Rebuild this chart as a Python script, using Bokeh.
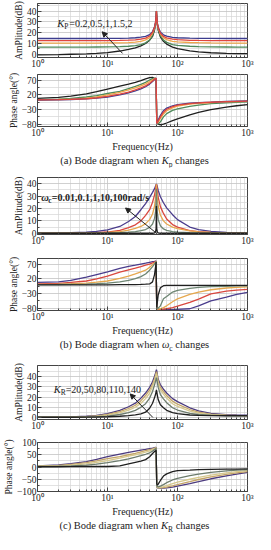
from bokeh.plotting import figure
from bokeh.models import (Range1d, FixedTicker, CustomJSTickFormatter, Label, Arrow,
                          NormalHead, Div)
from bokeh.layouts import column
from bokeh.embed import file_html
from bokeh.resources import INLINE

# ---------------- data ----------------
freq_hz = [1, 2, 3, 5, 7, 10, 15, 20, 25, 30, 35, 40, 44, 47, 48.5, 49.5, 50,
           50.5, 51.5, 53, 57, 63, 70, 85, 100, 150, 200, 300, 500, 700, 1000]

# (a) Kp changes
kp_values = ["0.2", "0.5", "1", "1.5", "2"]
amp_a_kp02 = [-0.5, -0.3, 0.0, 0.4, 0.9, 1.6, 3.0, 4.5, 6.0, 7.8, 10.0, 13.0, 16.5, 22.5, 27.5, 34.0, 40.0,
              34.0, 27.4, 22.3, 16.0, 12.0, 9.4, 6.6, 5.2, 3.2, 2.3, 1.4, 0.8, 0.6, 0.5]
amp_a_kp05 = [6.6, 6.6, 6.6, 6.6, 6.7, 6.8, 7.0, 7.4, 8.0, 9.0, 10.6, 13.2, 17.5, 23.5, 28.2, 34.3, 40.0,
              34.3, 27.9, 23.2, 17.2, 13.2, 11.0, 9.0, 8.3, 7.4, 7.1, 6.9, 6.7, 6.6, 6.6]
amp_a_kp1 = [10.4, 10.4, 10.4, 10.4, 10.4, 10.5, 10.6, 10.8, 11.2, 12.0, 13.3, 15.4, 19.3, 24.5, 28.8, 34.6, 40.0,
             34.6, 28.4, 24.0, 18.7, 15.3, 13.5, 12.0, 11.5, 10.9, 10.7, 10.5, 10.4, 10.4, 10.4]
amp_a_kp15 = [12.6, 12.6, 12.6, 12.6, 12.6, 12.7, 12.8, 13.0, 13.4, 14.0, 15.0, 16.9, 20.2, 25.0, 29.2, 34.8, 40.0,
              34.8, 28.7, 24.5, 19.5, 16.6, 15.2, 14.0, 13.5, 12.9, 12.8, 12.7, 12.6, 12.6, 12.6]
amp_a_kp2 = [14.6, 14.6, 14.6, 14.6, 14.6, 14.7, 14.8, 15.0, 15.3, 15.8, 16.6, 18.2, 21.0, 25.5, 29.5, 35.0, 40.0,
             35.0, 29.0, 25.0, 20.5, 18.0, 16.8, 15.7, 15.3, 14.9, 14.8, 14.7, 14.6, 14.6, 14.6]
ph_a_kp02 = [8, 12, 16, 24, 31, 40, 50, 57, 63, 69, 75, 79, 80, 76, 72, 65, 0,
             -65, -75, -80, -82, -80, -76, -68, -62, -48, -40, -30, -22, -17, -13]
ph_a_kp05 = [4, 6, 8, 13, 18, 25, 32, 42, 49, 56, 63, 71, 76, 78, 76, 70, 0,
             -72, -78, -79, -72, -55, -44, -33, -28, -19, -14.5, -10, -7, -5.5, -4]
ph_a_kp1 = [3, 4.5, 6, 9, 13, 20, 29, 37, 44, 51, 58, 66, 72, 76, 77, 75, 0,
            -76, -77, -73, -60, -45, -34, -24, -18.5, -11.5, -8.5, -6, -4, -3, -2]
ph_a_kp15 = [3, 4, 5, 7, 10, 15, 23, 30, 37, 44, 51, 60, 68, 74, 77, 77, 0,
             -77, -76, -69, -55, -39, -29, -20, -15, -9.5, -7, -5, -3, -2, -1]
ph_a_kp2 = [2.5, 3.5, 4.5, 6.5, 9, 13, 20, 27, 34, 41, 48, 57, 66, 73, 76, 78, 0,
            -78, -74, -66, -50, -34, -25, -17, -13, -8, -6, -4.5, -2.5, -1.5, -0.6]

# (b) omega_c changes
wc_values = ["0.01", "0.1", "1", "10", "100"]
amp_b_wc001 = [0, 0, 0, 0, 0, 0, 0, 0, 0, 0, 0, 0, 0, 0.3, 1.0, 4.0, 22.0,
               4.0, 1.0, 0.3, 0, 0, 0, 0, 0, 0, 0, 0, 0, 0, 0]
amp_b_wc01 = [0, 0, 0, 0, 0.1, 0.2, 0.5, 0.9, 1.4, 2.1, 3.0, 4.8, 7.5, 12.0, 17.0, 26.0, 36.0,
              26.0, 17.0, 11.0, 6.0, 3.5, 2.3, 1.3, 0.9, 0.4, 0.2, 0.1, 0, 0, 0]
amp_b_wc1 = [0, 0, 0.1, 0.2, 0.3, 0.6, 1.3, 2.6, 4.0, 5.5, 7.8, 11.0, 15.5, 22.0, 28.0, 35.0, 39.5,
             35.0, 28.0, 22.0, 14.5, 10.0, 7.5, 5.0, 3.8, 2.0, 1.2, 0.6, 0.2, 0.1, 0]
amp_b_wc10 = [0, 0.1, 0.1, 0.3, 0.5, 1.0, 2.4, 4.5, 6.8, 10.0, 14.5, 19.0, 25.0, 31.0, 35.0, 38.5, 39.7,
              38.5, 34.5, 29.0, 21.5, 16.0, 11.5, 7.0, 5.0, 2.2, 1.3, 0.6, 0.2, 0.1, 0.1]
amp_b_wc100 = [0.1, 0.2, 0.4, 0.8, 1.5, 2.7, 5.5, 9.5, 13.5, 19.0, 24.0, 29.0, 33.0, 36.0, 38.0, 39.2, 39.7,
               39.2, 37.5, 34.5, 29.5, 24.6, 20.5, 15.0, 11.0, 5.0, 3.0, 1.5, 0.6, 0.4, 0.2]
ph_b_wc001 = [0, 0, 0, 0, 0, 0, 0.3, 0.5, 0.8, 1.2, 2, 3, 10, 35, 60, 78, 0,
              -78, -60, -35, -10, -3, -2, -2, -2, -2, -2, -2, -2, -2, -2]
ph_b_wc01 = [0.5, 1, 1.5, 2.5, 4, 5.6, 10, 15, 21, 28, 37, 50, 62, 72, 77, 80, 0,
             -82, -82, -80, -72, -48, -40, -25, -19, -12, -9, -6.5, -5, -4, -3.5]
ph_b_wc1 = [1.5, 2.5, 3.5, 5.6, 9, 13, 22, 30, 37, 44, 50, 60, 69, 75, 78, 80, 0,
            -82, -83, -83, -82, -78, -72, -58, -48, -33, -25, -17, -11, -9, -7]
ph_b_wc10 = [3, 5, 8, 13, 20, 30, 43, 51, 57, 62, 67, 71, 75, 78, 80, 80, 0,
             -82, -84, -84, -84, -83, -82, -78, -73, -60, -49, -31, -22, -18, -16]
ph_b_wc100 = [8, 10, 15, 26, 35, 44, 56, 63, 67, 71, 74, 77, 79, 80, 81, 81, 0,
              -82, -84, -85, -85, -85, -85, -85, -84, -82, -72, -55, -42, -33, -26]

# (c) K_R changes
kr_values = ["20", "50", "80", "110", "140"]
amp_c_kr20 = [0.2, 0.2, 0.2, 0.3, 0.4, 0.7, 1.2, 1.8, 2.6, 3.6, 5.2, 9.0, 14.0, 19.5, 22.5, 25.5, 27.0,
              25.5, 22.0, 17.5, 12.5, 9.5, 7.0, 4.7, 3.8, 2.4, 2.0, 1.8, 1.7, 1.7, 1.7]
amp_c_kr50 = [0.3, 0.3, 0.3, 0.5, 0.8, 1.4, 2.9, 4.8, 7.0, 10.0, 13.5, 19.0, 25.5, 32.0, 35.5, 38.0, 39.0,
              38.0, 34.5, 29.5, 22.5, 18.3, 14.5, 9.5, 7.3, 4.0, 2.9, 2.2, 1.9, 1.8, 1.8]
amp_c_kr80 = [0.3, 0.3, 0.4, 0.7, 1.2, 2.3, 4.6, 7.2, 10.0, 14.0, 18.5, 24.0, 30.5, 36.0, 39.5, 42.0, 43.0,
              42.0, 38.5, 33.5, 27.0, 23.0, 19.0, 13.5, 10.8, 6.2, 4.2, 2.8, 2.1, 1.9, 1.8]
amp_c_kr110 = [0.3, 0.3, 0.5, 0.9, 1.5, 3.0, 5.8, 8.8, 12.0, 16.5, 21.5, 27.0, 32.5, 38.0, 41.5, 44.0, 45.0,
               44.0, 40.0, 35.5, 29.5, 25.3, 21.5, 16.0, 13.0, 7.8, 5.2, 3.3, 2.3, 2.0, 1.9]
amp_c_kr140 = [0.3, 0.4, 0.6, 1.2, 2.0, 3.8, 7.0, 10.5, 14.0, 19.0, 24.0, 29.5, 35.0, 40.5, 43.5, 46.0, 47.0,
               46.0, 42.0, 37.5, 32.0, 27.7, 24.0, 18.5, 15.5, 9.5, 6.5, 4.0, 2.8, 2.4, 2.2]
ph_c_kr20 = [1, 1, 1.5, 2, 2, 2, 5, 13, 19, 24, 30, 42, 55, 63, 66, 68, 0,
             -68, -73, -70, -55, -37, -28, -19, -15, -13, -11, -10, -9, -8.5, -8]
ph_c_kr50 = [2, 3, 5, 8, 12, 17.5, 26, 33, 40, 46, 52, 58, 65, 71, 74, 76, 0,
             -76, -80, -81, -78, -72, -64, -53, -46, -35, -29, -22, -16, -13, -11]
ph_c_kr80 = [3, 5, 8, 13, 19, 26, 36, 44, 50, 56, 61, 66, 71, 75, 77, 78, 0,
             -78, -82, -84, -83, -80, -76, -68, -62, -50, -42, -33, -24, -19, -15]
ph_c_kr110 = [4, 7, 11, 18, 25, 34, 42, 50, 56, 62, 67, 71, 74, 77, 78, 79, 0,
              -79, -83, -85, -85, -84, -82, -77, -72, -60, -51, -40, -30, -24, -19]
ph_c_kr140 = [5, 9, 14, 22, 31, 42, 53, 60, 65, 69, 72, 75, 77, 79, 80, 80, 0,
              -80, -84, -86, -86, -86, -85, -82, -78, -68, -60, -48, -36, -29, -22]

x_major = [1, 10, 100, 1000]
x_minor = [m * d for d in (1, 10, 100) for m in range(2, 10)]

# ---------------- styling ----------------
FONT = "Liberation Serif"
W, ML, MR = 255, 31, 8
INK = "#222222"

SUP = CustomJSTickFormatter(code="""
const e = Math.round(Math.log10(tick));
const s = ["\u2070", "\u00b9", "\u00b2", "\u00b3"];
return "10" + (s[e] || "");
""")


def make(h, mbt, mbb, yr, ymaj, ymin, ylabel, xlabel=None):
    p = figure(width=W, height=h, x_axis_type="log", x_range=Range1d(1, 1000),
               y_range=Range1d(*yr), output_backend="svg", toolbar_location=None,
               min_border_left=ML, min_border_right=MR, min_border_top=mbt,
               min_border_bottom=mbb)
    xt = FixedTicker(ticks=x_major, minor_ticks=x_minor)
    yt = FixedTicker(ticks=ymaj, minor_ticks=ymin)
    p.xaxis.ticker = xt
    p.yaxis.ticker = yt
    p.xgrid.ticker = xt
    p.ygrid.ticker = yt
    p.xaxis.formatter = SUP
    for g in (p.xgrid, p.ygrid):
        g.grid_line_color = "#c4c4c4"
        g.grid_line_width = 0.8
        g.minor_grid_line_color = "#d6d6d6"
        g.minor_grid_line_width = 0.7
    for ax in (p.xaxis, p.yaxis):
        ax.axis_line_color = "#444444"
        ax.major_tick_line_color = "#444444"
        ax.minor_tick_line_color = "#444444"
        ax.major_tick_in = 4
        ax.major_tick_out = 0
        ax.minor_tick_in = 2
        ax.minor_tick_out = 0
        ax.major_label_text_font = FONT
        ax.major_label_text_font_size = "9.5px"
        ax.major_label_text_color = INK
        ax.major_label_standoff = 1
        ax.axis_label_text_font = FONT
        ax.axis_label_text_font_size = "9.5px"
        ax.axis_label_text_font_style = "normal"
        ax.axis_label_text_color = INK
        ax.axis_label_standoff = 0
    p.xaxis.axis_label_text_font_size = "10px"
    p.yaxis.axis_label = ylabel
    p.xaxis.axis_label = xlabel
    p.outline_line_color = "#444444"
    p.outline_line_width = 1
    p.background_fill_color = "white"
    p.border_fill_color = "white"
    return p


def sym_label(p, x, y, main, sub, rest, dx_sub, dx_rest, bold=False):
    st = "bold" if bold else "normal"
    p.add_layout(Label(x=x, y=y, text=main, text_font=FONT, text_font_size="10.5px",
                       text_font_style="bold italic" if bold else "italic",
                       text_baseline="middle", text_color=INK))
    p.add_layout(Label(x=x, y=y, x_offset=dx_sub, y_offset=-3, text=sub, text_font=FONT,
                       text_font_size="7.5px", text_font_style=st,
                       text_baseline="middle", text_color=INK))
    p.add_layout(Label(x=x, y=y, x_offset=dx_rest, text=rest, text_font=FONT,
                       text_font_size="10px", text_font_style=st,
                       text_baseline="middle", text_color=INK))


def arrow(p, x0, y0, x1, y1):
    p.add_layout(Arrow(end=NormalHead(size=5, fill_color=INK, line_color=INK, line_width=1),
                       x_start=x0, y_start=y0, x_end=x1, y_end=y1,
                       line_color=INK, line_width=1))


def caption(html):
    return Div(text='<span style="position:relative;left:7px">' + html + '</span>',
               width=W, height=13, margin=0,
               styles={"text-align": "center", "font-family": FONT, "font-size": "10.5px",
                       "line-height": "13px", "color": INK, "white-space": "nowrap"})


AMP_T = [0, 10, 20, 30, 40]
AMP_M = [5, 15, 25, 35, 45]
PH_T = [-80, -30, 20, 70]
PH_M = [-55, -5, 45]
LW = 1.3

# ---- (a)
pal_a = ["#1f1f1f", "#4f8a5b", "#efa64a", "#3d3d8f", "#e0463f"]
a1 = make(71, 3, 14, (-3, 47), AMP_T, AMP_M, "AmPlitude(dB)")
for ys, c in zip([amp_a_kp02, amp_a_kp05, amp_a_kp1, amp_a_kp2, amp_a_kp15], pal_a):
    a1.line(freq_hz, ys, line_color=c, line_width=LW)
sym_label(a1, 1.92, 28.6, "K", "P", "=" + ",".join(kp_values), 7, 12)
arrow(a1, 16.4, 0.8, 8.4, 20.8)

a2 = make(83, 3, 24, (-88, 90), PH_T, PH_M, "Phase angle(\u00b0)", "Frequency(Hz)")
for ys, c in zip([ph_a_kp02, ph_a_kp05, ph_a_kp1, ph_a_kp2, ph_a_kp15], pal_a):
    a2.line(freq_hz, ys, line_color=c, line_width=LW)
cap_a = caption("(a) Bode diagram when <i>K</i><sub style='font-size:7.5px;line-height:0'>p</sub> changes")

# ---- (b)
pal_b = ["#1f1f1f", "#6d8572", "#e6a84e", "#d9473e", "#4a3c8c"]
b1 = make(81, 10, 14, (-1, 45), AMP_T, AMP_M, "AmPlitude(dB)")
for ys, c in zip([amp_b_wc100, amp_b_wc10, amp_b_wc1, amp_b_wc01, amp_b_wc001], pal_b[::-1]):
    b1.line(freq_hz, ys, line_color=c, line_width=LW)
sym_label(b1, 1.13, 28.6, "\u03c9", "c", "=" + ",".join(wc_values) + "rad/s", 7, 10.5, bold=True)
arrow(b1, 48.9, 0.5, 18.1, 20.4)

b2 = make(90, 10, 24, (-88, 90), PH_T, PH_M, "Phase angle(\u00b0)", "Frequency(Hz)")
for ys, c in zip([ph_b_wc100, ph_b_wc10, ph_b_wc1, ph_b_wc01, ph_b_wc001], pal_b[::-1]):
    b2.line(freq_hz, ys, line_color=c, line_width=LW)
cap_b = caption("(b) Bode diagram when <i>\u03c9</i><sub style='font-size:7.5px;line-height:0'>c</sub> changes")

# ---- (c)
pal_c = ["#1f1f1f", "#6c7b6c", "#d6c98e", "#c4a468", "#4b3a7e"]
c1 = make(82, 14, 14, (-2, 51), AMP_T, AMP_M, "AmPlitude(dB)")
for ys, c in zip([amp_c_kr140, amp_c_kr110, amp_c_kr80, amp_c_kr50, amp_c_kr20], pal_c[::-1]):
    c1.line(freq_hz, ys, line_color=c, line_width=LW)
sym_label(c1, 1.70, 27.9, "K", "R", "=" + ",".join(kr_values), 7, 12)
arrow(c1, 44.5, 0.0, 21.1, 23.1)

c2 = make(86, 9, 24, (-100, 100), [-100, -50, 0, 50, 100], [-75, -25, 25, 75],
          "Phase angle(\u00b0)", "Frequency(Hz)")
for ys, c in zip([ph_c_kr140, ph_c_kr110, ph_c_kr80, ph_c_kr50, ph_c_kr20], pal_c[::-1]):
    c2.line(freq_hz, ys, line_color=c, line_width=LW)
cap_c = caption("(c) Bode diagram when <i>K</i><sub style='font-size:7.5px;line-height:0'>R</sub> changes")

layout = column(a1, a2, cap_a, b1, b2, cap_b, c1, c2, cap_c, spacing=0)

open("out.html", "w").write(file_html(layout, INLINE))
